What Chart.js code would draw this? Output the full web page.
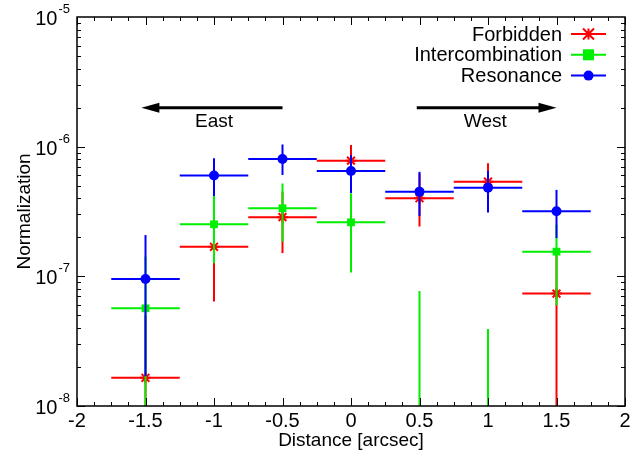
<!DOCTYPE html>
<html>
<head>
<meta charset="utf-8">
<script src="https://cdn.jsdelivr.net/npm/chart.js@4/dist/chart.umd.min.js"></script>
<style>
  html, body { margin: 0; padding: 0; background: #fff; }
  #wrap { width: 641px; height: 454px; }
</style>
</head>
<body>
<div id="wrap"><canvas id="lines"></canvas></div>
<script>
// distance of each slit position [arcsec]
const positions = [-1.5, -1, -0.5, 0, 0.5, 1, 1.5];
const halfWidth = 0.25;

// null in a low/value slot = below the plotted range
const forbidden     = [1.65e-8, 1.69e-7, 2.86e-7, 7.8e-7, 4.0e-7, 5.37e-7, 7.36e-8];
const forbiddenLow  = [null,    6.4e-8,  1.51e-7, 5.5e-7, 2.42e-7, 3.6e-7, null];
const forbiddenHigh = [5e-8,    2.6e-7,  4.5e-7,  1.03e-6, 6.2e-7, 7.45e-7, 1.5e-7];

const intercomb     = [5.67e-8, 2.52e-7, 3.35e-7, 2.61e-7, null,   null,    1.55e-7];
const intercombLow  = [null,    1.26e-7, 1.85e-7, 1.07e-7, null,   null,    6.0e-8];
const intercombHigh = [1.42e-7, 4.17e-7, 5.2e-7,  4.37e-7, 7.7e-8, 3.93e-8, 2.5e-7];

const resonance     = [9.55e-8, 6.0e-7,  8.04e-7, 6.5e-7, 4.5e-7,  4.83e-7, 3.18e-7];
const resonanceLow  = [1.7e-8,  4.17e-7, 6.05e-7, 4.4e-7, 2.92e-7, 3.1e-7,  1.97e-7];
const resonanceHigh = [2.08e-7, 8.14e-7, 1.04e-6, 8.6e-7, 6.4e-7,  6.5e-7,  4.64e-7];

const xTicks = [-2, -1.5, -1, -0.5, 0, 0.5, 1, 1.5, 2];
const yExponents = [-8, -7, -6, -5];

// direction arrows
const arrows = [
  {label: 'East', from: -0.5, to: -1.53, y: 2.0e-6, textY: 1.55e-6, textX: -1.0},
  {label: 'West', from: 0.48, to: 1.5, y: 2.0e-6, textY: 1.55e-6, textX: 0.98}
];

const FONT = '"Liberation Sans", Arial, sans-serif';

function pts(vals) {
  return positions.map((x, i) => ({x: x, y: vals[i]}));
}

const series = [
  {label: 'Forbidden', color: '#ff0000', style: 'star', radius: 5.5, vals: forbidden, lo: forbiddenLow, hi: forbiddenHigh, order: 3},
  {label: 'Intercombination', color: '#00ee00', style: 'rect', radius: 5.5, vals: intercomb, lo: intercombLow, hi: intercombHigh, order: 2},
  {label: 'Resonance', color: '#0000ff', style: 'circle', radius: 5, vals: resonance, lo: resonanceLow, hi: resonanceHigh, order: 1}
];

const errorBars = {
  id: 'errorBars',
  beforeDatasetDraw(chart, args) {
    const s = series[args.index];
    const {ctx, chartArea: a, scales: {x, y}} = chart;
    ctx.save();
    ctx.beginPath();
    ctx.rect(a.left, a.top, a.right - a.left, a.bottom - a.top);
    ctx.clip();
    ctx.strokeStyle = s.color;
    ctx.lineWidth = 2;
    positions.forEach((p, i) => {
      const px = x.getPixelForValue(p);
      const top = s.hi[i] == null ? a.bottom : y.getPixelForValue(s.hi[i]);
      const bot = s.lo[i] == null ? a.bottom + 5 : y.getPixelForValue(s.lo[i]);
      ctx.beginPath();
      ctx.moveTo(px, top);
      ctx.lineTo(px, bot);
      ctx.stroke();
      if (s.vals[i] != null) {
        const py = y.getPixelForValue(s.vals[i]);
        ctx.beginPath();
        ctx.moveTo(x.getPixelForValue(p - halfWidth), py);
        ctx.lineTo(x.getPixelForValue(p + halfWidth), py);
        ctx.stroke();
      }
    });
    ctx.restore();
  }
};

function drawMarker(ctx, s, cx, cy) {
  ctx.save();
  ctx.fillStyle = s.color;
  ctx.strokeStyle = s.color;
  ctx.lineWidth = 2;
  if (s.style === 'rect') {
    ctx.fillRect(cx - 5.5, cy - 5.5, 11, 11);
  } else if (s.style === 'circle') {
    ctx.beginPath();
    ctx.arc(cx, cy, 5, 0, Math.PI * 2);
    ctx.fill();
  } else {
    const r = 5.5;
    ctx.beginPath();
    ctx.moveTo(cx - r, cy - r); ctx.lineTo(cx + r, cy + r);
    ctx.moveTo(cx - r, cy + r); ctx.lineTo(cx + r, cy - r);
    ctx.moveTo(cx, cy - r); ctx.lineTo(cx, cy + r);
    ctx.stroke();
  }
  ctx.restore();
}

const frame = {
  id: 'frame',
  afterDraw(chart) {
    const {ctx, chartArea: a, scales: {x, y}} = chart;
    ctx.save();
    ctx.strokeStyle = '#000';
    ctx.lineWidth = 1;
    // ticks, inward on all four sides
    for (let v = -2; v <= 2.0001; v += 0.125) {
      const px = Math.round(x.getPixelForValue(v)) + 0.5;
      const major = Math.abs(v * 2 - Math.round(v * 2)) < 1e-6;
      const len = major ? 8 : 4;
      ctx.beginPath();
      ctx.moveTo(px, a.bottom); ctx.lineTo(px, a.bottom - len);
      ctx.moveTo(px, a.top); ctx.lineTo(px, a.top + len);
      ctx.stroke();
    }
    for (let e = -8; e < -5; e++) {
      for (let m = 1; m <= 9; m++) {
        const py = Math.round(y.getPixelForValue(m * Math.pow(10, e))) + 0.5;
        const len = m === 1 ? 8 : 4;
        ctx.beginPath();
        ctx.moveTo(a.left, py); ctx.lineTo(a.left + len, py);
        ctx.moveTo(a.right, py); ctx.lineTo(a.right - len, py);
        ctx.stroke();
      }
    }
    ctx.lineWidth = 1.5;
    ctx.strokeRect(a.left, a.top, a.right - a.left, a.bottom - a.top);

    // tick labels
    ctx.fillStyle = '#000';
    ctx.font = '20px ' + FONT;
    ctx.textAlign = 'center';
    ctx.textBaseline = 'alphabetic';
    xTicks.forEach(v => {
      ctx.fillText(String(v), x.getPixelForValue(v), a.bottom + 21);
    });
    yExponents.forEach(e => {
      const py = y.getPixelForValue(Math.pow(10, e));
      const sup = String(e);
      ctx.font = '13px ' + FONT;
      const sw = ctx.measureText(sup).width;
      ctx.textAlign = 'right';
      ctx.textBaseline = 'alphabetic';
      ctx.fillText(sup, a.left - 7, py - 4);
      ctx.font = '20px ' + FONT;
      ctx.fillText('10', a.left - 8 - sw, py + 8);
    });

    // axis titles
    ctx.font = '19px ' + FONT;
    ctx.textAlign = 'center';
    ctx.textBaseline = 'middle';
    ctx.fillText('Distance [arcsec]', (a.left + a.right) / 2, 441);
    ctx.save();
    ctx.translate(25, (a.top + a.bottom) / 2);
    ctx.rotate(-Math.PI / 2);
    ctx.fillText('Normalization', 0, 0);
    ctx.restore();

    // arrows
    arrows.forEach(ar => {
      const x0 = x.getPixelForValue(ar.from);
      const x1 = x.getPixelForValue(ar.to);
      const py = y.getPixelForValue(ar.y);
      const dir = Math.sign(x1 - x0);
      ctx.strokeStyle = '#000';
      ctx.lineWidth = 3;
      ctx.beginPath();
      ctx.moveTo(x0, py);
      ctx.lineTo(x1 - dir * 10, py);
      ctx.stroke();
      ctx.beginPath();
      ctx.moveTo(x1, py);
      ctx.lineTo(x1 - dir * 18, py - 5);
      ctx.lineTo(x1 - dir * 18, py + 5);
      ctx.closePath();
      ctx.fill();
      ctx.font = '19px ' + FONT;
      ctx.textAlign = 'center';
      ctx.textBaseline = 'middle';
      ctx.fillText(ar.label, x.getPixelForValue(ar.textX), y.getPixelForValue(ar.textY));
    });

    // key, top right
    ctx.font = '20px ' + FONT;
    series.forEach((s, i) => {
      const ly = 34 + i * 20.8;
      ctx.fillStyle = '#000';
      ctx.textAlign = 'right';
      ctx.textBaseline = 'middle';
      ctx.fillText(s.label, 562, ly + 1);
      ctx.strokeStyle = s.color;
      ctx.lineWidth = 2;
      ctx.beginPath();
      ctx.moveTo(571, ly); ctx.lineTo(606, ly);
      ctx.stroke();
      drawMarker(ctx, s, 588.5, ly);
    });
    ctx.restore();
  }
};

const data = {
  datasets: series.map(s => ({
    label: s.label,
    data: pts(s.vals),
    showLine: false,
    order: s.order,
    pointStyle: s.style,
    pointRadius: s.radius,
    pointHoverRadius: s.radius,
    pointBackgroundColor: s.color,
    pointBorderColor: s.color,
    pointBorderWidth: s.style === 'star' ? 2 : 0,
    backgroundColor: s.color,
    borderColor: s.color
  }))
};

const config = {
  type: 'scatter',
  data,
  options: {
    responsive: false,
    animation: false,
    layout: {padding: {left: 77, right: 16, top: 17, bottom: 48}},
    plugins: {legend: {display: false}, tooltip: {enabled: false}},
    scales: {
      x: {type: 'linear', min: -2, max: 2, display: false},
      y: {type: 'logarithmic', min: 1e-8, max: 1e-5, display: false}
    }
  },
  plugins: [errorBars, frame]
};

const canvas = document.getElementById('lines');
canvas.width = 641;
canvas.height = 454;
let myChart = new Chart(canvas, config);
</script>
</body>
</html>
